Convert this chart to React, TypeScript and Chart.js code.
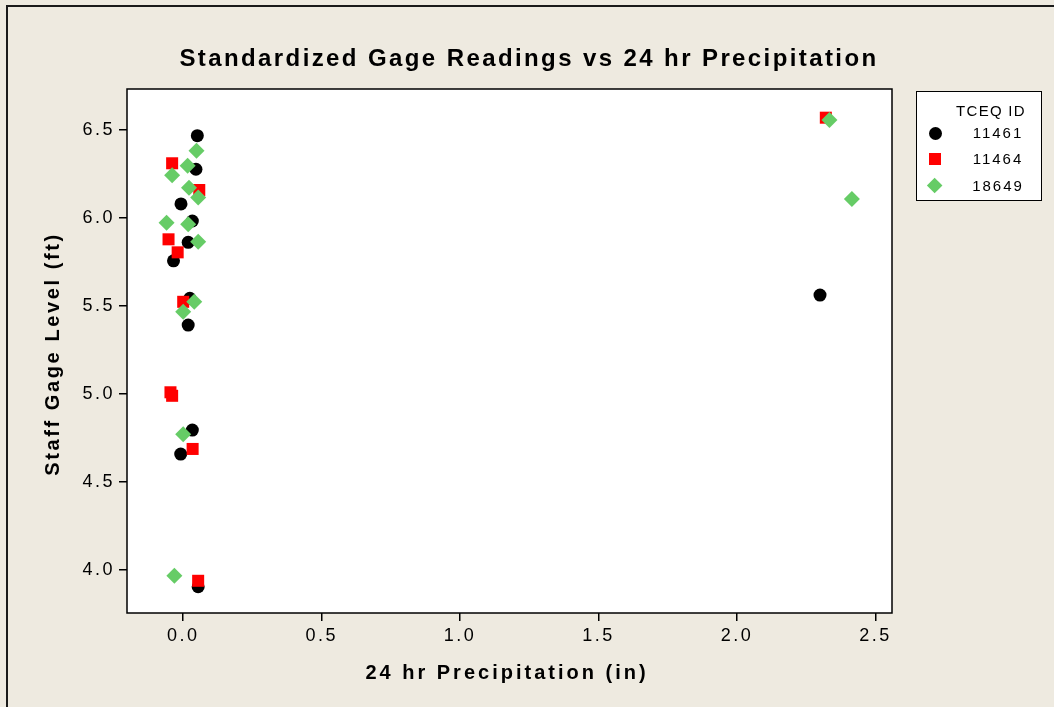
import React, { useEffect, useRef } from "react";
import { Chart, registerables } from "chart.js";

Chart.register(...registerables);

const seriesNames = ["11461", "11464", "18649"];

const x11461 = [0.051, 0.046, -0.008, 0.033, 0.018, -0.035, 0.024, 0.018, 0.033, -0.009, 0.054, 2.3];
const y11461 = [6.468, 6.277, 6.08, 5.983, 5.862, 5.757, 5.544, 5.392, 4.795, 4.659, 3.905, 5.562];

const x11464 = [-0.04, 0.058, -0.053, -0.02, 0.0, -0.046, -0.04, 0.034, 0.054, 2.321];
const y11464 = [6.311, 6.159, 5.879, 5.805, 5.524, 5.01, 4.99, 4.688, 3.939, 6.57];

const x18649 = [0.048, 0.016, -0.04, 0.021, 0.054, -0.06, 0.018, 0.054, 0.04, 0.0, 0.0, -0.032, 2.334, 2.415];
const y18649 = [6.382, 6.297, 6.243, 6.172, 6.117, 5.973, 5.964, 5.865, 5.524, 5.468, 4.771, 3.968, 6.557, 6.108];

const xTickValues = [0, 0.5, 1.0, 1.5, 2.0, 2.5];
const yTickValues = [4.0, 4.5, 5.0, 5.5, 6.0, 6.5];
const xRange = [-0.203, 2.56];
const yRange = [3.756, 6.733];

const chartTitle = "Standardized Gage Readings vs 24 hr Precipitation";
const xTitle = "24 hr Precipitation (in)";
const yTitle = "Staff Gage Level (ft)";
const legendTitle = "TCEQ ID";

const colors = ["#000000", "#FF0000", "#66CC66"];
const FONT = '"Liberation Sans", Arial, sans-serif';

const toPoints = (xs: number[], ys: number[]) => xs.map((x, i) => ({ x, y: ys[i] }));

const framePlugin = {
  id: "framePlugin",
  beforeDraw(chart: any) {
    const { ctx, chartArea } = chart;
    ctx.save();
    ctx.fillStyle = "#FFFFFF";
    ctx.fillRect(chartArea.left, chartArea.top, chartArea.right - chartArea.left, chartArea.bottom - chartArea.top);
    ctx.restore();
    (ctx as any).letterSpacing = "2.5px";
  },
  afterDraw(chart: any) {
    const { ctx, chartArea } = chart;
    ctx.save();
    ctx.strokeStyle = "#000";
    ctx.lineWidth = 1.5;
    ctx.strokeRect(chartArea.left, chartArea.top, chartArea.right - chartArea.left, chartArea.bottom - chartArea.top);
    ctx.restore();
  },
};

export default function App() {
  const canvasRef = useRef<HTMLCanvasElement | null>(null);

  useEffect(() => {
    if (!canvasRef.current) return;
    const tickFont = { family: FONT, size: 18 };
    const chart = new Chart(canvasRef.current, {
      type: "scatter",
      data: {
        datasets: [
          {
            label: seriesNames[0],
            data: toPoints(x11461, y11461),
            pointStyle: "circle",
            pointRadius: 6.5,
            backgroundColor: colors[0],
            borderColor: colors[0],
            borderWidth: 0,
            order: 3,
          },
          {
            label: seriesNames[1],
            data: toPoints(x11464, y11464),
            pointStyle: "rect",
            pointRadius: 8.5,
            backgroundColor: colors[1],
            borderColor: colors[1],
            borderWidth: 0,
            order: 2,
          },
          {
            label: seriesNames[2],
            data: toPoints(x18649, y18649),
            pointStyle: "rectRot",
            pointRadius: 8,
            backgroundColor: colors[2],
            borderColor: colors[2],
            borderWidth: 0,
            order: 1,
          },
        ] as any,
      },
      options: {
        animation: false,
        responsive: false,
        maintainAspectRatio: false,
        events: [],
        layout: { padding: { left: 57, right: 162, top: 89, bottom: 34 } },
        plugins: { legend: { display: false }, tooltip: { enabled: false }, title: { display: false } },
        scales: {
          x: {
            type: "linear",
            min: xRange[0],
            max: xRange[1],
            afterBuildTicks: (s: any) => {
              s.ticks = xTickValues.map((v) => ({ value: v }));
            },
            afterFit: (s: any) => {
              s.height = 60;
            },
            grid: { drawOnChartArea: false, drawTicks: true, tickLength: 8, color: "#000", lineWidth: 1.5 },
            border: { display: false },
            ticks: {
              color: "#000",
              font: tickFont,
              padding: 4,
              maxRotation: 0,
              autoSkip: false,
              callback: (v: any) => Number(v).toFixed(1),
            },
          },
          y: {
            type: "linear",
            min: yRange[0],
            max: yRange[1],
            afterBuildTicks: (s: any) => {
              s.ticks = yTickValues.map((v) => ({ value: v }));
            },
            afterFit: (s: any) => {
              s.width = 70;
            },
            grid: { drawOnChartArea: false, drawTicks: true, tickLength: 8, color: "#000", lineWidth: 1.5 },
            border: { display: false },
            ticks: {
              color: "#000",
              font: tickFont,
              padding: 4,
              autoSkip: false,
              callback: (v: any) => Number(v).toFixed(1),
            },
          },
        },
      } as any,
      plugins: [framePlugin],
    });
    return () => chart.destroy();
  }, []);

  const markerStyle = (i: number): React.CSSProperties => {
    if (i === 0) return { width: 13, height: 13, borderRadius: "50%", background: colors[0], left: 18 - 6.5, top: -6.5 };
    if (i === 1) return { width: 12, height: 12, background: colors[1], left: 18 - 6, top: -6 };
    return { width: 11.3, height: 11.3, background: colors[2], left: 18 - 5.65, top: -5.65, transform: "rotate(45deg)" };
  };

  const legendRows = [41, 67, 94];

  return (
    <div
      style={{
        position: "fixed",
        left: 0,
        top: 0,
        width: 1054,
        height: 707,
        background: "#EEEAE0",
        overflow: "hidden",
        fontFamily: FONT,
        color: "#000",
      }}
    >
      <div
        style={{
          position: "absolute",
          left: 6,
          top: 5,
          width: 1100,
          height: 760,
          borderLeft: "2px solid #1a1a1a",
          borderTop: "2px solid #1a1a1a",
        }}
      />
      <canvas ref={canvasRef} width={1054} height={707} style={{ position: "absolute", left: 0, top: 0, width: 1054, height: 707 }} />
      <div
        style={{
          position: "absolute",
          left: 29,
          top: 44,
          width: 1000,
          textAlign: "center",
          fontWeight: "bold",
          fontSize: 24,
          lineHeight: "28px",
          letterSpacing: "2.4px",
        }}
      >
        {chartTitle}
      </div>
      <div
        style={{
          position: "absolute",
          left: 7,
          top: 660,
          width: 1000,
          textAlign: "center",
          fontWeight: "bold",
          fontSize: 20,
          lineHeight: "24px",
          letterSpacing: "3px",
        }}
      >
        {xTitle}
      </div>
      <div
        style={{
          position: "absolute",
          left: 52 - 200,
          top: 354 - 12,
          width: 400,
          height: 24,
          textAlign: "center",
          fontWeight: "bold",
          fontSize: 20,
          lineHeight: "24px",
          letterSpacing: "2.6px",
          transform: "rotate(-90deg)",
          transformOrigin: "center",
        }}
      >
        {yTitle}
      </div>
      <div
        style={{
          position: "absolute",
          left: 916,
          top: 91,
          width: 126,
          height: 110,
          boxSizing: "border-box",
          background: "#fff",
          border: "1.5px solid #000",
        }}
      >
        <div
          style={{
            position: "absolute",
            left: 74 - 60,
            top: 19 - 9,
            width: 120,
            textAlign: "center",
            fontSize: 15,
            lineHeight: "18px",
            letterSpacing: "1.3px",
          }}
        >
          {legendTitle}
        </div>
        {seriesNames.map((name, i) => (
          <div key={name} style={{ position: "absolute", left: 0, top: legendRows[i], width: 120, height: 0 }}>
            <div style={{ position: "absolute", ...markerStyle(i) }} />
            <div
              style={{
                position: "absolute",
                left: 81 - 40,
                top: -9,
                width: 80,
                textAlign: "center",
                fontSize: 15,
                lineHeight: "18px",
                letterSpacing: "2px",
              }}
            >
              {name}
            </div>
          </div>
        ))}
      </div>
    </div>
  );
}
